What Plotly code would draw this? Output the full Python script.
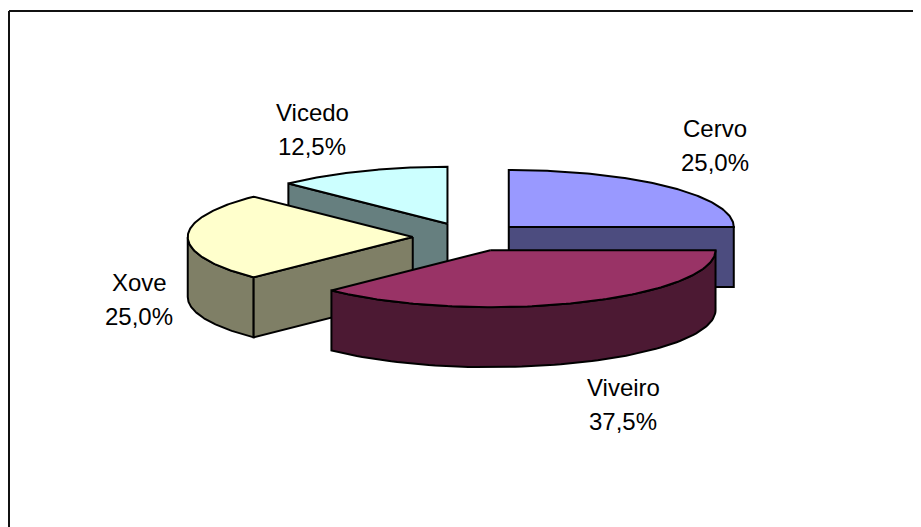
import numpy as np
import plotly.graph_objects as go

# ---- data ----
categories = ["Cervo", "Viveiro", "Xove", "Vicedo"]
counts = [2, 3, 2, 1]
top_colors = ["#9999FF", "#993366", "#FFFFCC", "#CCFFFF"]

# ---- layout / geometry (pixels) ----
W, H = 921, 527
OFF = 8  # page body margin compensation
CX, CY = 469, 237
RX, RY = 225, 57
DEPTH = 60
EXPLODE = 0.25
FONT = "Liberation Sans, Arial, sans-serif"
FONT_SIZE = 24
LINE_GAP = 34
# label centre (first line) per category
label_pos = {"Cervo": (715, 128), "Viveiro": (623, 387), "Xove": (139, 282), "Vicedo": (312, 112)}


def darken(hexcol, f=0.5):
    h = hexcol.lstrip("#")
    r, g, b = (int(h[i:i + 2], 16) for i in (0, 2, 4))
    return "#%02X%02X%02X" % (int(r * f), int(g * f), int(b * f))


def pt(cx, cy, ang):
    a = np.radians(ang)
    return cx + RX * np.sin(a), cy - RY * np.cos(a)


total = sum(counts)
fracs = [c / total for c in counts]
starts = np.concatenate([[0], np.cumsum(fracs)[:-1]]) * 360
ends = np.cumsum(fracs) * 360

slices = []
for name, f, a1, a2, col in zip(categories, fracs, starts, ends, top_colors):
    mid = np.radians((a1 + a2) / 2)
    cx = CX + EXPLODE * RX * np.sin(mid)
    cy = CY - EXPLODE * RY * np.cos(mid)
    slices.append(dict(name=name, f=f, a1=a1, a2=a2, col=col, cx=cx, cy=cy))

fig = go.Figure()


def poly(xs, ys, fill):
    xs = list(xs) + [xs[0]]
    ys = list(ys) + [ys[0]]
    fig.add_trace(go.Scatter(x=xs, y=ys, mode="lines", fill="toself", fillcolor=fill,
                             line=dict(color="black", width=2), hoverinfo="skip",
                             showlegend=False))


for s in sorted(slices, key=lambda d: d["cy"]):
    cx, cy, a1, a2 = s["cx"], s["cy"], s["a1"], s["a2"]
    side = darken(s["col"])
    # outer arc side (front half 90..270)
    b1, b2 = max(a1, 90), min(a2, 270)
    if b2 > b1:
        angs = np.linspace(b1, b2, 80)
        tx, ty = pt(cx, cy, angs)
        xs = np.concatenate([tx, tx[::-1]])
        ys = np.concatenate([ty, ty[::-1] + DEPTH])
        poly(xs, ys, side)
    # radial faces
    for ang, vis in ((a1, np.sin(np.radians(a1)) < -1e-6), (a2, np.sin(np.radians(a2)) > 1e-6)):
        if vis:
            ex, ey = pt(cx, cy, ang)
            poly([cx, ex, ex, cx], [cy, ey, ey + DEPTH, cy + DEPTH], side)
    # top face
    angs = np.linspace(a1, a2, 120)
    tx, ty = pt(cx, cy, angs)
    poly(np.concatenate([[cx], tx]), np.concatenate([[cy], ty]), s["col"])

annotations = []
for s in slices:
    lx, ly = label_pos[s["name"]]
    pct = ("%.1f%%" % (s["f"] * 100)).replace(".", ",")
    for i, txt in enumerate([s["name"], pct]):
        annotations.append(dict(x=lx, y=ly + i * LINE_GAP, xref="x", yref="y", text=txt,
                                showarrow=False, xanchor="center", yanchor="middle",
                                font=dict(family=FONT, size=FONT_SIZE, color="black")))

shapes = [
    dict(type="line", xref="x", yref="y", x0=9, x1=9, y0=11, y1=H + 20, line=dict(color="#111", width=2)),
    dict(type="line", xref="x", yref="y", x0=9, x1=W + 20, y0=11, y1=11, line=dict(color="#111", width=2)),
]

fig.update_layout(
    width=W, height=H, margin=dict(l=0, r=0, t=0, b=0),
    paper_bgcolor="white", plot_bgcolor="white",
    xaxis=dict(range=[OFF, W + OFF], visible=False, fixedrange=True),
    yaxis=dict(range=[H + OFF, OFF], visible=False, fixedrange=True),
    annotations=annotations, shapes=shapes, showlegend=False,
)

fig.write_html("out.html")
